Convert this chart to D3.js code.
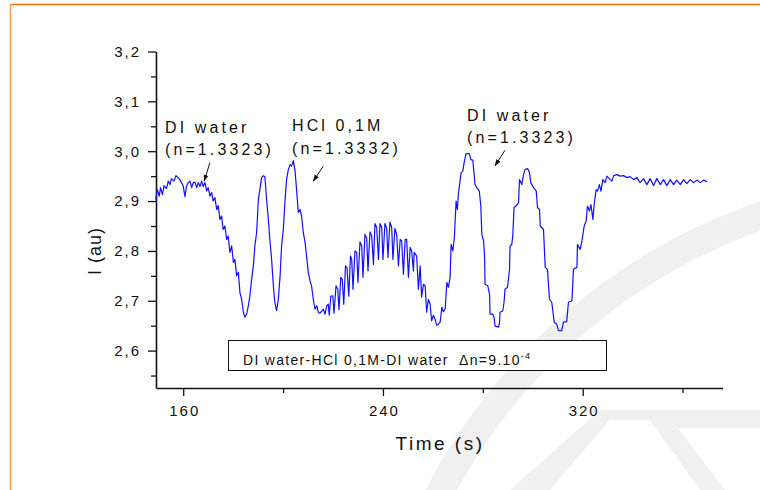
<!DOCTYPE html>
<html><head><meta charset="utf-8">
<script src="https://cdn.jsdelivr.net/npm/d3@7"></script>
<style>
html,body{margin:0;padding:0;background:#fff;}
svg{display:block;font-family:"Liberation Sans",Arial,sans-serif;}
</style></head>
<body><svg id="c" width="760" height="490"></svg>
<script>
// ---- data ----
const time = [149.0,149.6,150.4,150.9,151.7,152.3,153.3,154.0,154.7,155.3,156.3,157.1,158.0,159.0,160.0,160.7,161.3,162.0,162.7,163.4,164.0,164.7,165.4,166.0,166.7,167.4,168.0,168.7,169.4,170.0,170.7,171.4,172.0,172.7,173.4,174.0,174.7,175.4,176.0,176.7,177.4,178.0,178.7,179.4,180.1,180.7,181.4,182.1,182.7,183.4,184.1,184.7,185.4,186.1,186.7,187.4,188.1,188.7,189.4,190.1,190.7,191.4,192.1,192.7,193.4,194.1,194.7,195.4,196.1,196.7,197.4,198.1,198.8,199.4,200.1,200.8,201.4,202.1,202.8,203.4,204.1,204.8,205.4,206.1,206.8,207.4,208.1,208.8,209.4,210.1,210.8,211.4,212.1,212.8,213.5,214.1,
214.8,216.1,216.8,217.5,218.1,218.5,219.1,219.9,220.4,221.2,221.9,222.4,223.1,223.7,224.3,225.0,225.6,226.3,227.0,227.5,228.0,228.8,229.5,230.0,230.8,231.5,232.0,232.8,233.5,234.0,234.8,235.5,236.2,236.8,237.5,238.2,238.8,239.5,240.0,240.8,241.5,242.0,242.8,243.5,244.0,244.8,245.5,246.2,246.9,247.5,248.2,248.9,249.5,250.2,250.9,251.5,252.2,252.5,253.5,254.2,254.9,255.5,256.2,256.9,257.5,258.2,258.9,259.5,260.2,260.9,261.5,262.2,262.9,263.6,264.2,264.9,265.6,266.2,266.9,267.3,268.0,268.6,
269.3,269.8,270.2,271.3,272.0,272.5,273.3,274.6,275.2,276.0,276.2,276.9,277.6,278.6,279.2,279.6,280.3,280.7,280.9,282.0,282.7,282.9,284.0,284.5,284.9,286.3,286.7,286.9,288.0,288.5,288.9,289.9,290.7,290.9,291.6,292.0,292.5,293.3,294.3,294.7,295.6,296.3,296.9,298.0,298.7,299.2,300.3,301.4,301.9,302.7,303.0,304.3,305.0,305.9,306.7,307.6,308.6,309.6,310.3,311.6,312.3,313.6,314.3,315.7,316.3,317.7,317.9,319.0,319.7,320.6,321.4,321.9,322.7,323.3,324.1,324.6,325.4,325.9,326.7,327.3,328.1,329.0,329.7,
331.7,332.4,333.7,335.0,336.4,337.7,339.0,340.4,341.7,343.0,344.4,345.7,347.0,348.4,349.7,351.1,352.4,353.7,355.1,356.4,357.7,359.1,360.4,361.7,363.1,364.4,365.8,367.1,368.4,369.8];
const intensity = [2.903,2.923,2.910,2.927,2.913,2.931,2.925,2.940,2.933,2.945,2.940,2.951,2.947,2.940,2.930,2.909,2.929,2.937,2.940,2.927,2.937,2.938,2.927,2.937,2.929,2.940,2.929,2.937,2.920,2.927,2.910,2.917,2.900,2.907,2.883,2.891,2.863,2.870,2.843,2.850,2.823,2.830,2.797,2.810,2.777,2.783,2.750,2.757,2.717,2.703,2.677,2.667,2.673,2.690,2.710,2.743,2.770,2.810,2.837,2.903,2.923,2.947,2.951,2.949,2.903,2.863,2.823,2.783,2.730,2.697,2.680,2.703,2.750,2.810,2.843,2.903,2.943,2.963,2.973,2.970,2.981,2.960,2.923,2.877,2.883,2.870,2.837,2.817,2.790,2.757,2.740,2.730,2.703,2.683,2.690,2.677,
2.675,2.683,2.673,2.690,2.693,2.671,2.709,2.710,2.675,2.730,2.723,2.682,2.747,2.743,2.693,2.770,2.767,2.709,2.790,2.783,2.723,2.800,2.797,2.737,2.818,2.810,2.747,2.833,2.825,2.760,2.838,2.830,2.773,2.855,2.847,2.783,2.855,2.847,2.783,2.855,2.845,2.787,2.858,2.847,2.783,2.845,2.833,2.770,2.823,2.820,2.753,2.823,2.823,2.747,2.807,2.800,2.760,2.797,2.790,2.723,2.770,2.707,2.733,2.730,2.677,2.703,2.693,2.660,2.671,2.663,2.651,2.653,2.657,2.687,2.678,2.683,2.737,2.727,2.747,2.813,2.800,2.827,
2.900,2.883,2.913,2.957,2.960,2.977,2.995,2.995,2.983,2.982,2.970,2.933,2.927,2.920,2.890,2.833,2.820,2.790,2.733,2.730,2.713,2.673,2.673,2.667,2.649,2.647,2.657,2.677,2.680,2.697,2.723,2.727,2.763,2.810,2.813,2.830,2.887,2.890,2.897,2.943,2.933,2.953,2.963,2.965,2.957,2.937,2.927,2.920,2.887,2.883,2.850,2.843,2.767,2.763,2.703,2.697,2.657,2.653,2.640,2.640,2.657,2.658,2.697,2.700,2.763,2.767,2.813,2.803,2.820,2.850,2.860,2.890,2.880,2.893,2.863,2.893,2.923,2.920,2.933,2.920,2.943,2.937,2.950,
2.940,2.951,2.953,2.950,2.951,2.947,2.949,2.943,2.947,2.937,2.945,2.933,2.945,2.931,2.945,2.933,2.943,2.931,2.943,2.933,2.942,2.933,2.943,2.935,2.943,2.937,2.942,2.937,2.942,2.939];
const yMajorTicks = [2.6,2.7,2.8,2.9,3.0,3.1,3.2];
const yMinorTicks = [2.55,2.65,2.75,2.85,2.95,3.05,3.15];
const xMajorTicks = [160,240,320];
const xMinorTicks = [200,280,360];
const annotations = [
  {lines:["DI water","(n=1.3323)"], t:152.7, v:[3.037,2.993]},
  {lines:["HCl 0,1M","(n=1.3332)"], t:203.6, v:[3.041,2.995]},
  {lines:["DI water","(n=1.3323)"], t:273.7, v:[3.061,3.017]}
];
const arrows = [
  {from:[170.7,2.977], to:[168.4,2.940]},
  {from:[216.1,2.970], to:[212.1,2.940]},
  {from:[288.9,3.002], to:[284.9,2.971]}
];
const legendText = "DI water-HCl 0,1M-DI water\u00a0\u00a0\u0394n=9.10";
const legendSup = "-4";

// ---- chart ----
const svg = d3.select("#c");
const x = d3.scaleLinear().domain([149.1, 376]).range([156, 722.5]);
const y = d3.scaleLinear().domain([2.525, 3.2]).range([388, 51.5]);

// page background, watermark, orange frame
svg.append("rect").attr("width",760).attr("height",490).attr("fill","#fff");
const wm = svg.append("g");
wm.append("path")
  .attr("d", d3.arc()({innerRadius:562, outerRadius:590, startAngle:-Math.PI*0.40, endAngle:-Math.PI*0.02}))
  .attr("transform","translate(950,760)").attr("fill","#f0f0f0");
wm.append("polygon").attr("points","510,490 550,490 618,410 600,410").attr("fill","#f0f0f0");
wm.append("polygon").attr("points","600,410 760,410 760,428 655,428 650,420 612,420").attr("fill","#f0f0f0");
wm.append("polygon").attr("points","650,420 672,420 725,490 700,490").attr("fill","#f0f0f0");

svg.append("line").attr("x1",10).attr("x2",760).attr("y1",4.5).attr("y2",4.5).attr("stroke","#ff6a10").attr("stroke-width",1.5);
svg.append("line").attr("x1",10.5).attr("x2",10.5).attr("y1",4).attr("y2",490).attr("stroke","#ff9a50").attr("stroke-width",1.5);

const fmt = d => d3.format(".1f")(d).replace(".", ",");

// y axis
const gy = svg.append("g").attr("transform",`translate(${x.range()[0]},0)`);
gy.call(d3.axisLeft(y).tickValues(yMajorTicks).tickSize(8).tickSizeOuter(0).tickPadding(7).tickFormat(fmt));
gy.append("g").call(d3.axisLeft(y).tickValues(yMinorTicks).tickSize(5).tickSizeOuter(0).tickFormat(""))
  .select(".domain").remove();
// x axis
const gx = svg.append("g").attr("transform",`translate(0,${y.range()[0]})`);
gx.call(d3.axisBottom(x).tickValues(xMajorTicks).tickSize(8).tickSizeOuter(0).tickPadding(9).tickFormat(d3.format("d")));
gx.append("g").call(d3.axisBottom(x).tickValues(xMinorTicks).tickSize(5).tickSizeOuter(0).tickFormat(""))
  .select(".domain").remove();
svg.selectAll(".domain").attr("stroke","#111").attr("stroke-width",1.6);
svg.selectAll(".tick line").attr("stroke","#111").attr("stroke-width",1.3);
svg.selectAll(".tick text").attr("font-family","'Liberation Sans',Arial,sans-serif")
  .attr("font-size",15).attr("fill","#111").style("letter-spacing","2px");
gx.selectAll(".tick text").attr("dx","1px");

// axis titles
svg.append("text").attr("x",440).attr("y",450).attr("text-anchor","middle")
  .attr("font-size",19).style("letter-spacing","2.5px").attr("fill","#111").text("Time (s)");
svg.append("text").attr("transform","translate(101,251) rotate(-90)").attr("text-anchor","middle")
  .attr("font-size",18).style("letter-spacing","1px").attr("fill","#111").text("I (au)");

// curve
const pts = time.map((t,i)=>[t,intensity[i]]);
svg.append("path").datum(pts)
  .attr("d", d3.line().x(d=>x(d[0])).y(d=>y(d[1])))
  .attr("fill","none").attr("stroke","#1010ff").attr("stroke-width",1.2).attr("stroke-linejoin","round");

// annotations
annotations.forEach(a=>{
  a.lines.forEach((s,i)=>{
    svg.append("text").attr("x",x(a.t)).attr("y",y(a.v[i]))
      .attr("font-size",16).style("letter-spacing","3.1px").attr("fill","#111").text(s);
  });
});
svg.append("defs").append("marker").attr("id","ah").attr("viewBox","0 0 10 10")
  .attr("refX",9).attr("refY",5).attr("markerWidth",7).attr("markerHeight",7)
  .attr("orient","auto").append("path").attr("d","M0,1.5 L10,5 L0,8.5 Z").attr("fill","#111");
arrows.forEach(a=>{
  svg.append("line").attr("x1",x(a.from[0])).attr("y1",y(a.from[1]))
    .attr("x2",x(a.to[0])).attr("y2",y(a.to[1]))
    .attr("stroke","#111").attr("stroke-width",1).attr("marker-end","url(#ah)");
});

// legend box
const lb = svg.append("g");
lb.append("rect").attr("x",228.5).attr("y",340.5).attr("width",378).attr("height",30)
  .attr("fill","#fff").attr("stroke","#111").attr("stroke-width",1);
const lt = lb.append("text").attr("x",243).attr("y",364.5).attr("font-size",14)
  .style("letter-spacing","1.3px").attr("fill","#111");
lt.append("tspan").text(legendText);
lt.append("tspan").attr("dy",-6).attr("font-size",9).text(legendSup);
</script>
</body></html>
